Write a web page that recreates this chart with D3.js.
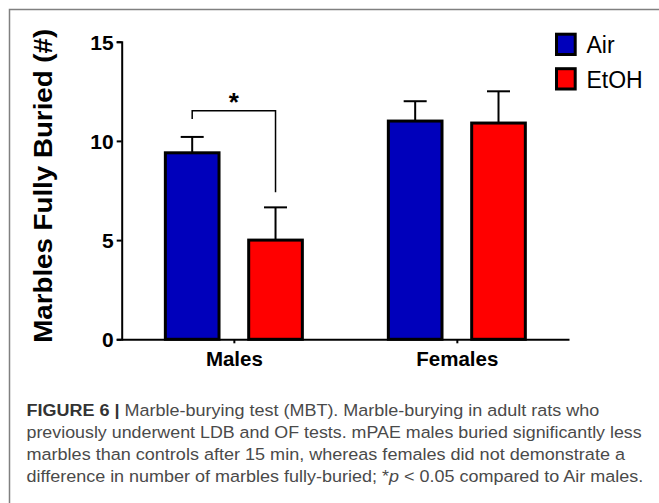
<!DOCTYPE html>
<html>
<head>
<meta charset="utf-8">
<script src="https://cdn.jsdelivr.net/npm/d3@7"></script>
<style>
  html, body { margin: 0; padding: 0; background: #fff; }
  svg { display: block; }
</style>
</head>
<body>
<svg id="fig" width="659" height="503"></svg>
<script>
// Marble-burying test: marbles fully buried per group (mean, SEM)
const groups = ["Males", "Females"];
const series = ["Air", "EtOH"];
const airMeans = [9.4, 11.0];
const airSem = [0.8, 1.0];
const etohMeans = [5.0, 10.9];
const etohSem = [1.65, 1.6];
const yTicks = [0, 5, 10, 15];
const seriesColors = ["#0000bb", "#ff0000"];
const yLabel = "Marbles Fully Buried (#)";
const captionLines = [
  "Marble-burying test (MBT). Marble-burying in adult rats who",
  "previously underwent LDB and OF tests. mPAE males buried significantly less",
  "marbles than controls after 15 min, whereas females did not demonstrate a",
  "difference in number of marbles fully-buried; *p < 0.05 compared to Air males."
];

const rows = [];
groups.forEach((g, i) => {
  rows.push({ group: g, series: "Air", mean: airMeans[i], sem: airSem[i] });
  rows.push({ group: g, series: "EtOH", mean: etohMeans[i], sem: etohSem[i] });
});

const svg = d3.select("#fig");

// panel frame (top and left rules)
svg.append("path")
  .attr("d", "M9.5,503 L9.5,9.5 L659,9.5")
  .attr("fill", "none").attr("stroke", "#808080").attr("stroke-width", 1.5);

const x0 = 121.7, x1 = 569, yBottom = 339.3, yTop = 41.7;

const y = d3.scaleLinear().domain([0, 15]).range([yBottom, yTop]);
const xGroup = d3.scalePoint().domain(groups).range([x0, x1]).padding(0.503);
const xSeries = d3.scaleBand().domain(series).range([-70, 70]).paddingInner(0.32).paddingOuter(0);
const color = d3.scaleOrdinal().domain(series).range(seriesColors);

const plot = svg.append("g");

// bars
const bw = xSeries.bandwidth();
const inset = 1.5;
plot.selectAll("rect.bar").data(rows).join("rect")
  .attr("class", "bar")
  .attr("x", d => xGroup(d.group) + xSeries(d.series) + inset)
  .attr("width", bw - 2 * inset)
  .attr("y", d => y(d.mean))
  .attr("height", d => y(0) - y(d.mean))
  .attr("fill", d => color(d.series))
  .attr("stroke", "#000").attr("stroke-width", 3);

// error bars (upper SEM)
const cx = d => xGroup(d.group) + xSeries(d.series) + bw / 2;
plot.selectAll("line.err").data(rows).join("line")
  .attr("class", "err")
  .attr("x1", cx).attr("x2", cx)
  .attr("y1", d => y(d.mean)).attr("y2", d => y(d.mean + d.sem))
  .attr("stroke", "#000").attr("stroke-width", 2);
plot.selectAll("line.cap").data(rows).join("line")
  .attr("class", "cap")
  .attr("x1", d => cx(d) - 11.5).attr("x2", d => cx(d) + 11.5)
  .attr("y1", d => y(d.mean + d.sem)).attr("y2", d => y(d.mean + d.sem))
  .attr("stroke", "#000").attr("stroke-width", 2);

// y axis
const yAxis = plot.append("g")
  .attr("transform", `translate(${x0},0)`)
  .call(d3.axisLeft(y).tickValues(yTicks).tickSize(5).tickPadding(3));
yAxis.select(".domain").attr("stroke", "#000").attr("stroke-width", 2);
yAxis.selectAll(".tick line").attr("stroke", "#000").attr("stroke-width", 2);
yAxis.selectAll(".tick text")
  .attr("font-family", "Liberation Sans, Arial, sans-serif")
  .attr("font-weight", "bold").attr("font-size", 21).attr("fill", "#000")
  .attr("dy", "0.36em");

// x axis
const xAxis = plot.append("g")
  .attr("transform", `translate(0,${yBottom})`)
  .call(d3.axisBottom(xGroup).tickSize(4).tickSizeOuter(0).tickPadding(8.5));
xAxis.select(".domain").attr("stroke", "#000").attr("stroke-width", 2);
xAxis.selectAll(".tick line").attr("stroke", "#000").attr("stroke-width", 2);
xAxis.selectAll(".tick text")
  .attr("font-family", "Liberation Sans, Arial, sans-serif")
  .attr("font-weight", "bold").attr("font-size", 20.5).attr("fill", "#000");

// y axis title
svg.append("text")
  .attr("transform", `translate(51.8,${185.8}) rotate(-90)`)
  .attr("text-anchor", "middle")
  .attr("textLength", 314).attr("lengthAdjust", "spacingAndGlyphs")
  .attr("font-family", "Liberation Sans, Arial, sans-serif")
  .attr("font-weight", "bold").attr("font-size", 26.5).attr("fill", "#000")
  .text(yLabel);

// significance bracket between Air and EtOH males
const bx1 = xGroup("Males") + xSeries("Air") + bw / 2;
const bx2 = xGroup("Males") + xSeries("EtOH") + bw / 2;
plot.append("path")
  .attr("d", `M${bx1},${y(11.1)} L${bx1},${y(11.52)} L${bx2},${y(11.52)} L${bx2},${y(7.41)}`)
  .attr("fill", "none").attr("stroke", "#000").attr("stroke-width", 1.5);
plot.append("text")
  .attr("x", (bx1 + bx2) / 2).attr("y", y(11.52) + 0.5)
  .attr("text-anchor", "middle")
  .attr("font-family", "Liberation Sans, Arial, sans-serif")
  .attr("font-weight", "bold").attr("font-size", 26).attr("fill", "#000")
  .text("*");

// legend
const legend = svg.append("g").attr("transform", "translate(556.5,34.2)");
const li = legend.selectAll("g").data(series).join("g")
  .attr("transform", (d, i) => `translate(0,${i * 34.5})`);
li.append("rect").attr("width", 18.7).attr("height", 20.3)
  .attr("fill", d => color(d)).attr("stroke", "#000").attr("stroke-width", 3);
li.append("text").attr("x", 30).attr("y", 19)
  .attr("font-family", "Liberation Sans, Arial, sans-serif")
  .attr("font-size", 23).attr("fill", "#000")
  .text(d => d);

// figure caption
const cap = svg.append("g")
  .attr("font-family", "Liberation Sans, Arial, sans-serif")
  .attr("font-size", 16.8).attr("fill", "#4a4a4a");
const lineEnds = [599.3, 641.7, 625, 643.3];
const baseY = 415.5, lh = 22;
captionLines.forEach((line, i) => {
  const t = cap.append("text").attr("x", 26.5).attr("y", baseY + i * lh)
    .attr("textLength", lineEnds[i] - 26.5).attr("lengthAdjust", "spacingAndGlyphs");
  if (i === 0) {
    t.append("tspan").attr("font-weight", "bold").attr("fill", "#333").text("FIGURE 6 | ");
    t.append("tspan").text(line);
  } else if (line.includes("*p")) {
    const [a, b] = line.split("*p");
    t.append("tspan").text(a + "*");
    t.append("tspan").attr("font-style", "italic").text("p");
    t.append("tspan").text(b);
  } else {
    t.text(line);
  }
});
</script>
</body>
</html>
